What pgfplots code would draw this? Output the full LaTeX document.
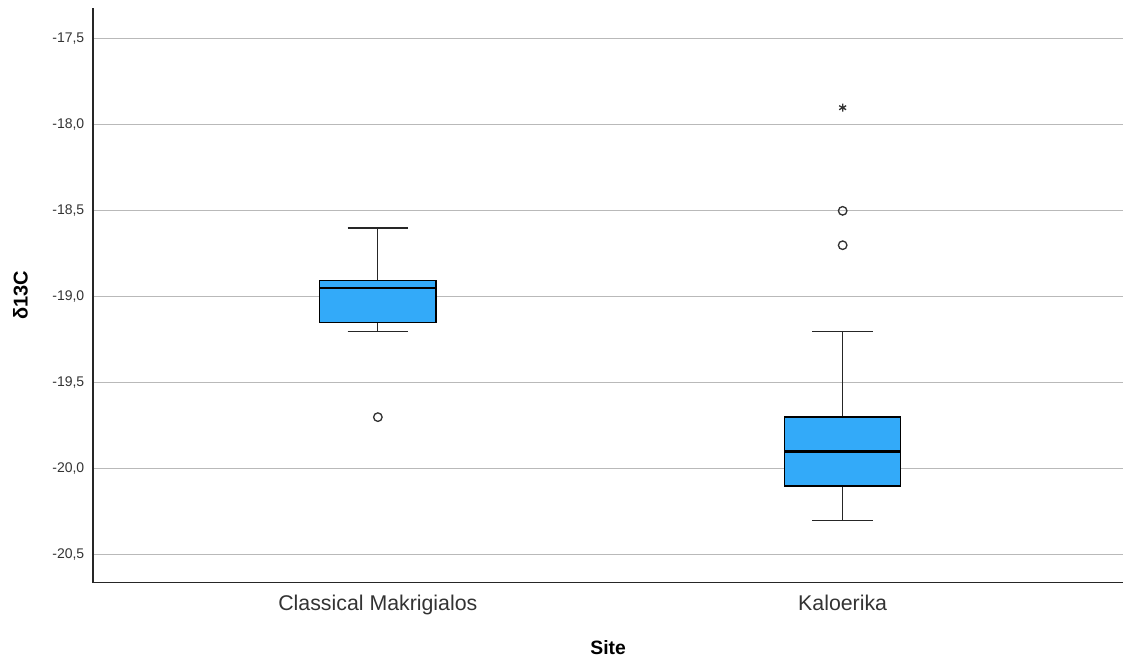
\documentclass[border=0pt]{standalone}
\usepackage{pgfplots}
\pgfplotsset{compat=1.18}
\usepgfplotslibrary{statistics}
\usepackage{fontspec}
\setmainfont{Liberation Sans}
\definecolor{boxblue}{RGB}{51,170,249}
\definecolor{gridgray}{RGB}{185,185,185}
\begin{document}
\begin{tikzpicture}
\begin{axis}[
  at={(0,0)}, anchor=south west,
  scale only axis,
  width=773.25pt, height=431.25pt,
  xmin=0.387, xmax=2.604,
  ymin=-20.663, ymax=-17.32,
  axis x line*=bottom, axis y line*=left,
  axis line style={black!85, line width=0.9pt},
  xtick={1,2}, xticklabels={Classical Makrigialos, Kaloerika},
  ytick={-20.5,-20,-19.5,-19,-18.5,-18,-17.5},
  major tick length=0pt,
  ymajorgrids, grid style={gridgray, line width=0.8pt},
  /pgf/number format/.cd, fixed, fixed zerofill, precision=1, use comma, assume math mode=true,
  /pgfplots/.cd,
  yticklabel style={font=\fontsize{10.5}{12}\selectfont, text=black!80, xshift=-3pt},
  xticklabel style={font=\fontsize{16}{18}\selectfont, text=black!80, yshift=-6pt},
  ylabel={\textbf{δ13C}}, ylabel style={font=\fontsize{15}{17}\selectfont, yshift=11.5pt},
  xlabel={\textbf{Site}}, xlabel style={font=\fontsize{14.5}{17}\selectfont, yshift=-12pt},
  boxplot/draw direction=y,
  boxplot/box extend=0.25,
  boxplot/whisker extend=0.13,
  clip=false,
]
\addplot[draw=black!85, line width=0.9pt, fill=boxblue,
  boxplot prepared={draw position=1, lower whisker=-19.2, lower quartile=-19.15,
    median=-18.95, upper quartile=-18.905, upper whisker=-18.6,
    every median/.style={black, line width=1.8pt},
    every box/.style={draw=black, fill=boxblue, line width=1pt}}]
  coordinates {};
\addplot[draw=black!85, line width=0.9pt, fill=boxblue,
  boxplot prepared={draw position=2, lower whisker=-20.3, lower quartile=-20.1,
    median=-19.9, upper quartile=-19.7, upper whisker=-19.2,
    every median/.style={black, line width=1.8pt},
    every box/.style={draw=black, fill=boxblue, line width=1pt}}]
  coordinates {};
\addplot[only marks, mark=o, mark size=3.2pt, mark options={draw=black!80, line width=1pt}]
  coordinates {(1,-19.7) (2,-18.5) (2,-18.7)};
\addplot[only marks, mark=asterisk, mark size=3pt, mark options={draw=black!80, line width=1pt}]
  coordinates {(2,-17.9)};
\end{axis}
\path[use as bounding box] (-69.75pt,-60pt) rectangle (773.25pt,437.25pt);
\end{tikzpicture}
\end{document}
